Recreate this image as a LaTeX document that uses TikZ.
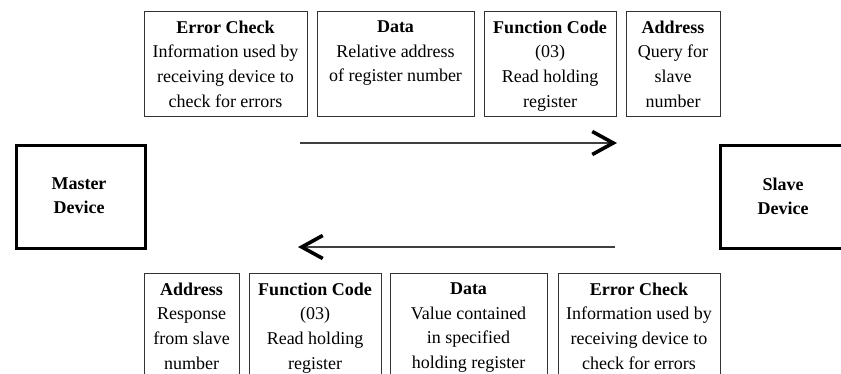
\documentclass[tikz,border=0pt]{standalone}
\usepackage{fontspec}
\setmainfont{Liberation Serif}
\usetikzlibrary{arrows.meta}
\tikzset{
  msgbox/.style={draw=black!80, line width=1pt, inner sep=0pt, anchor=north west},
  devbox/.style={draw=black, line width=3.3pt, inner sep=0pt, anchor=north west},
  msgtxt/.style={inner sep=0pt, anchor=north, align=center, text=black,
    font=\fontsize{18}{24.7}\selectfont},
  devtxt/.style={inner sep=0pt, align=center, text=black,
    font=\fontsize{18}{24}\selectfont\bfseries},
  flow/.style={draw=black!75, line width=1.3pt,
    -{Straight Barb[length=21pt, width=23pt, line width=3.6pt, color=black]}}
}
\begin{document}
\begin{tikzpicture}[x=1pt, y=-1pt]
\useasboundingbox (0,0) rectangle (841,374);
\clip (0,0) rectangle (841,374);
% top boxes
\node[msgbox, minimum width=163pt, minimum height=105pt] (tEC) at (143.5,11.5) {};
\node[msgbox, minimum width=157pt, minimum height=105pt] (tDA) at (316.5,11.5) {};
\node[msgbox, minimum width=132pt, minimum height=105pt] (tFC) at (483.5,11.5) {};
\node[msgbox, minimum width=94pt, minimum height=105pt] (tAD) at (625.5,11.5) {};
\node[msgtxt, yshift=-9pt] (tECt) at (tEC.north) {\textbf{Error Check}\\Information used by\\receiving device to\\check for errors};
\node[msgtxt, yshift=-9pt] (tDAt) at (tDA.north) {\textbf{Data}\\Relative address\\of register number};
\node[msgtxt, yshift=-9pt] (tFCt) at (tFC.north) {\textbf{Function Code}\\(03)\\Read holding\\register};
\node[msgtxt, yshift=-9pt] (tADt) at (tAD.north) {\textbf{Address}\\Query for\\slave\\number};
% bottom boxes
\node[msgbox, minimum width=95pt, minimum height=130pt] (bAD) at (143.5,273.5) {};
\node[msgbox, minimum width=132pt, minimum height=130pt] (bFC) at (248.5,273.5) {};
\node[msgbox, minimum width=157pt, minimum height=130pt] (bDA) at (389.5,273.5) {};
\node[msgbox, minimum width=162pt, minimum height=130pt] (bEC) at (557.5,273.5) {};
\node[msgtxt, yshift=-9pt] (bADt) at (bAD.north) {\textbf{Address}\\Response\\from slave\\number};
\node[msgtxt, yshift=-9pt] (bFCt) at (bFC.north) {\textbf{Function Code}\\(03)\\Read holding\\register};
\node[msgtxt, yshift=-9pt] (bDAt) at (bDA.north) {\textbf{Data}\\Value contained\\in specified\\holding register};
\node[msgtxt, yshift=-9pt] (bECt) at (bEC.north) {\textbf{Error Check}\\Information used by\\receiving device to\\check for errors};
% devices
\node[devbox, minimum width=129pt, minimum height=103pt] (master) at (14.6,143.6) {};
\node[devbox, minimum width=131pt, minimum height=103pt] (slave) at (718.6,143.6) {};
\node[devtxt] (mastert) at (79,196) {Master\\Device};
\node[devtxt] (slavet) at (783,196) {Slave\\Device};
% arrows
\coordinate (qs) at (300,143);
\coordinate (qe) at (617,143);
\coordinate (rs) at (615,247);
\coordinate (re) at (298,247);
\draw[flow] (qs) -- (qe);
\draw[flow] (rs) -- (re);
\end{tikzpicture}
\end{document}
